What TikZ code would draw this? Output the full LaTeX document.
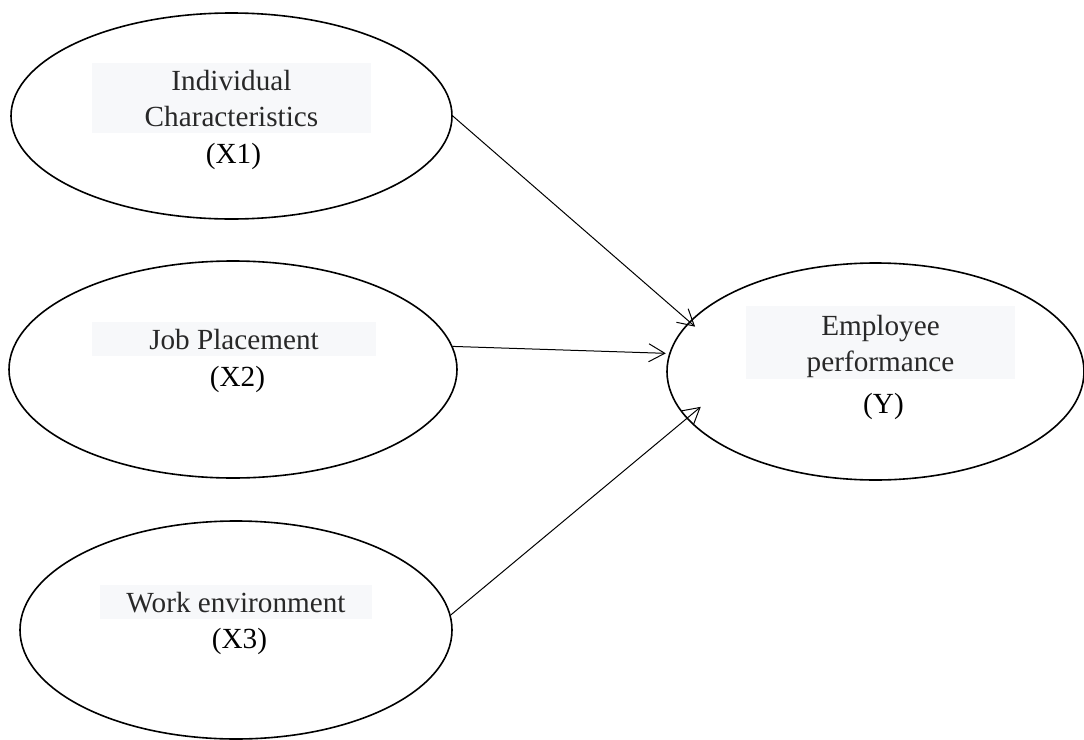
\documentclass[tikz,border=0pt]{standalone}
\usepackage{fontspec}
\setmainfont{Liberation Serif}
\usetikzlibrary{positioning,arrows.meta,shapes}
\definecolor{boxgray}{RGB}{247,248,250}
\definecolor{txtgray}{RGB}{40,40,40}
\newcommand{\tstrut}{\rule{0pt}{13.75pt}}
\newcommand{\bstrut}{\rule[-3.25pt]{0pt}{3.25pt}}
\tikzstyle{vbox}=[ellipse, draw=black, line width=0.8pt, inner sep=0pt]
\tikzstyle{lbox}=[rectangle, fill=boxgray, text=txtgray, inner sep=0pt,
                  align=center, font=\fontsize{14.6}{18}\selectfont]
\tikzstyle{xlbl}=[anchor=base, inner sep=0pt, font=\fontsize{14.6}{18}\selectfont]
\tikzstyle{pline}=[-{Straight Barb[length=8pt,width=9pt]}, line width=0.5pt]

\begin{document}
\begin{tikzpicture}[x=0.5pt,y=-0.5pt]
\useasboundingbox (0,0) rectangle (1084,740);

\node (IC) [vbox, minimum width=220.5pt, minimum height=103pt] at (231.5,116) {};
\node (ICT) [lbox, minimum width=139.5pt] at (231.5,98) {\tstrut Individual\\Characteristics\bstrut};
\node (ICX) [xlbl] at (233.5,163) {(X1)};

\node (JP) [vbox, minimum width=224pt, minimum height=108.5pt] at (233,369.5) {};
\node (JPT) [lbox, minimum width=142pt] at (234,339) {\tstrut Job Placement\bstrut};
\node (JPX) [xlbl] at (237.5,386) {(X2)};

\node (WE) [vbox, minimum width=216pt, minimum height=109pt] at (236,630) {};
\node (WET) [lbox, minimum width=136pt] at (236,602) {\tstrut Work environment\bstrut};
\node (WEX) [xlbl] at (239.5,648) {(X3)};

\node (EP) [vbox, minimum width=208.5pt, minimum height=108.5pt] at (875.5,371.5) {};
\node (EPT) [lbox, minimum width=134.5pt, minimum height=36.5pt] at (880.5,342.5) {\tstrut Employee\\performance\bstrut};
\node (EPX) [xlbl] at (883.5,413) {(Y)};

 \draw[pline, shorten >=-3.85pt] (IC.east) -- (EP.165.7);
 \draw[pline, shorten >=1.65pt] (JP.6.1) -- (EP.175.5);
 \draw[pline, shorten >=-9.2pt] (WE.4.5) -- (EP.194.8);

\end{tikzpicture}
\end{document}
